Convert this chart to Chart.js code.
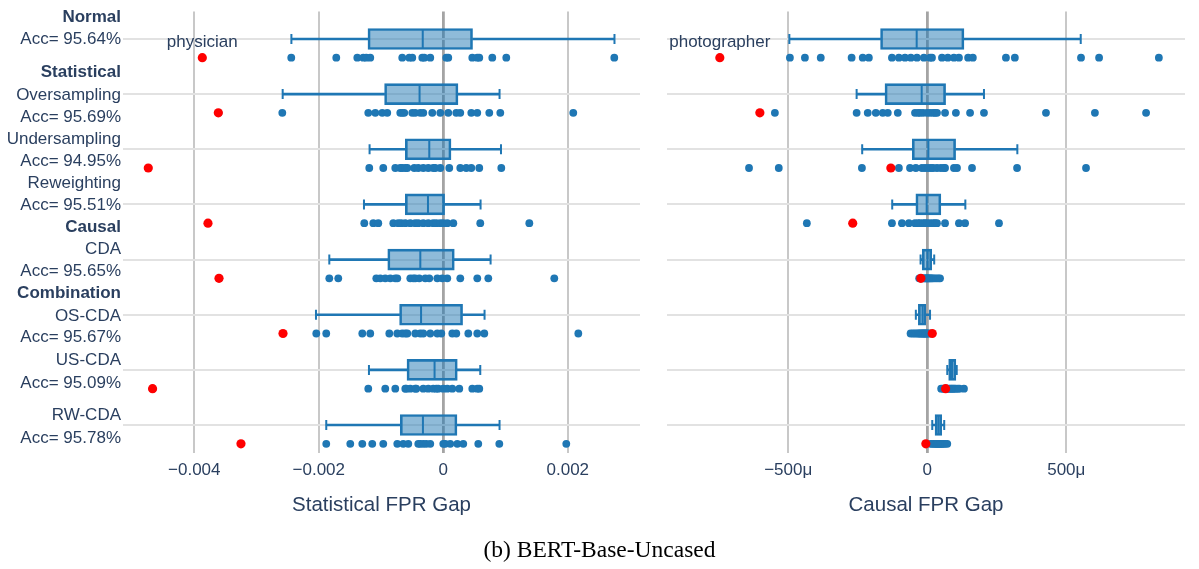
<!DOCTYPE html>
<html>
<head>
<meta charset="utf-8">
<script src="https://cdn.jsdelivr.net/npm/chart.js@4.4.0/dist/chart.umd.min.js"></script>
<style>
  body { margin: 0; background: #fff; width: 1199px; height: 569px; overflow: hidden; position: relative; }
  #leftWrap { position: absolute; left: 0; top: 0; width: 655px; height: 569px; }
  #rightWrap { position: absolute; left: 655px; top: 0; width: 544px; height: 569px; }
  #caption { position: absolute; left: 0; width: 1199px; top: 536px; text-align: center;
             font-family: "Liberation Serif", "Times New Roman", serif; font-size: 23.5px; color: #000; }
</style>
</head>
<body>
<div id="leftWrap"><canvas id="statChart"></canvas></div>
<div id="rightWrap"><canvas id="causalChart"></canvas></div>
<div id="caption">(b) BERT-Base-Uncased</div>
<script>
// row labels, top to bottom ('*' = bold line)
const rowLabelLines = [
    ['*Normal', 'Acc= 95.64%'],
    ['*Statistical', 'Oversampling', 'Acc= 95.69%'],
    ['Undersampling', 'Acc= 94.95%'],
    ['Reweighting', 'Acc= 95.51%'],
    ['*Causal', 'CDA', 'Acc= 95.65%'],
    ['*Combination', 'OS-CDA', 'Acc= 95.67%'],
    ['US-CDA', 'Acc= 95.09%'],
    ['RW-CDA', 'Acc= 95.78%']
];

const statTicks = [-0.004, -0.002, 0, 0.002];
const causalTicks = [-500, 0, 500];   // in micro units

// Statistical FPR gap: box stats per row
const statLow  = [-0.00244, -0.00258, -0.001184, -0.001274, -0.001831, -0.002045, -0.001194, -0.00188];
const statQ1   = [-0.00121, -0.000943, -0.00061, -0.00061, -0.000892, -0.000702, -0.000583, -0.000691];
const statMed  = [-0.00033, -0.000381, -0.000225, -0.000246, -0.000369, -0.000357, -0.00014, -0.000327];
const statQ3   = [0.00047, 0.000236, 0.000124, 0.000021, 0.000177, 0.00031, 0.000225, 0.00022];
const statHigh = [0.00275, 0.000904, 0.000927, 0.000599, 0.00076, 0.000663, 0.000594, 0.000904];
const statRed  = [-0.003871, -0.003614, -0.004739, -0.00378, -0.003603, -0.002575, -0.00467, -0.00325];
const statPoints = [
    [-0.002442, -0.001719, -0.001381, -0.001285, -0.001237, -0.001173, -0.000659, -0.000546, -0.000498, -0.000337,
     -0.000305, -0.000209, 0.000048, 0.00008, 0.000466, 0.000546, 0.000578, 0.000787, 0.001012, 0.002747],
    [-0.00361, -0.002586, -0.001205, -0.001092, -0.00098, -0.0009, -0.000691, -0.000659, -0.000627, -0.000498, -0.00045,
     -0.000369, -0.000321, -0.000177, -0.000048, 0.00008, 0.000209, 0.000273, 0.00045, 0.000546, 0.000739, 0.000916, 0.002088],
    [-0.001189, -0.000964, -0.000771, -0.000691, -0.000659, -0.00061, -0.000578, -0.000466, -0.000402, -0.000321,
     -0.000241, -0.000161, -0.000129, -0.000048, 0.000096, 0.000273, 0.000369, 0.00045, 0.000578, 0.000932],
    [-0.001269, -0.001124, -0.001044, -0.000803, -0.000723, -0.000675, -0.00061, -0.00053, -0.00045, -0.000402,
     -0.000321, -0.000241, -0.000161, -0.000112, -0.000048, 0, 0.000064, 0.000161, 0.000594, 0.001382],
    [-0.0036, -0.001831, -0.001687, -0.001076, -0.001012, -0.000932, -0.000851, -0.000771, -0.000739, -0.00053, -0.000482,
     -0.00045, -0.000386, -0.000289, -0.000225, -0.000096, -0.000016, 0.000064, 0.000273, 0.000546, 0.000723, 0.001783],
    [-0.00204, -0.00188, -0.001301, -0.001173, -0.000867, -0.000739, -0.000659, -0.00061, -0.000578, -0.00045, -0.000369,
     -0.000321, -0.000209, -0.000096, -0.000032, 0.000145, 0.000209, 0.000402, 0.000546, 0.000659, 0.002169],
    [-0.00467, -0.001205, -0.000932, -0.000771, -0.00061, -0.000594, -0.00053, -0.00045, -0.000434, -0.000321, -0.000241,
     -0.000161, -0.000112, -0.00008, 0, 0.000064, 0.000145, 0.000257, 0.000466, 0.000546, 0.000578],
    [-0.00188, -0.001494, -0.001301, -0.001141, -0.000964, -0.000739, -0.000643, -0.000562, -0.000402, -0.000369, -0.000321,
     -0.000273, -0.000209, 0, 0.000032, 0.000112, 0.000225, 0.000321, 0.000562, 0.0009, 0.001976]
];

// Causal FPR gap (micro units): box stats per row
const causalLow  = [-496, -254, -234, -126, -24, -41, 72, 18];
const causalQ1   = [-168, -152, -54, -41, -18, -32, 77, 28];
const causalMed  = [-38, -20, 4, -2, 1, -17, 89, 40];
const causalQ3   = [132, 66, 102, 49, 16, -5, 103, 52];
const causalHigh = [552, 204, 324, 137, 25, 10, 106, 61];
const causalRed  = [-746, -602, -131, -268, -23, 18, 66, -5];
const causalPoints = [
    [-494, -440, -383, -272, -232, -210, -127, -102, -80, -59, -37, -12, 10, 17, 53, 74, 96, 114, 147, 164, 283, 315, 553, 618, 833],
    [-548, -254, -214, -185, -160, -142, -106, -44, -33, -26, -15, -1, 10, 21, 28, 35, 64, 103, 154, 204, 427, 603, 787],
    [-641, -534, -235, -102, -62, -41, -19, -8, 3, 13, 21, 35, 49, 60, 64, 96, 107, 161, 323, 571],
    [-433, -127, -91, -66, -44, -33, -26, -15, -8, -1, 10, 21, 28, 35, 64, 114, 136, 258],
    [-29, -22, -16, -12, -8, -5, -2, 0, 3, 6, 9, 12, 16, 20, 26, 33, 40, 46],
    [-60, -52, -45, -38, -32, -28, -24, -20, -17, -14, -11, -8, -5, -2, 2, 8],
    [50, 56, 62, 68, 73, 78, 82, 86, 90, 94, 98, 103, 110, 116, 132],
    [12, 18, 24, 28, 32, 35, 38, 41, 44, 47, 50, 54, 58, 64, 72]
];

const statNote = 'physician';
const causalNote = 'photographer';

const BLUE = '#1f77b4';
const TEXT = '#2a3f5f';
const FONT = '"Liberation Sans", Arial, sans-serif';
const PT_OFF = 0.34;   // points sit a bit below their box
// label line offsets (px) from each row's tick
const lineOffsets = [[-22, 0], [-22, 1, 23], [-10, 12], [-21, 1], [-32, -10, 12], [-21, 2, 23], [-10, 13], [-10, 13]];

Chart.defaults.font.family = FONT;

function buildDatasets(low, q1, med, q3, high, pts, red) {
    const idx = low.map((_, i) => i);
    return [
        { type: 'scatter', data: red.map((v, i) => ({ x: v, y: i + PT_OFF })),
          pointRadius: 4.6, backgroundColor: '#ff0000', borderWidth: 0 },
        { type: 'scatter', data: pts.flatMap((row, i) => row.map(v => ({ x: v, y: i + PT_OFF }))),
          pointRadius: 3.9, backgroundColor: BLUE, borderWidth: 0 },
        { type: 'scatter', data: med.map((v, i) => ({ x: v, y: i })),
          pointStyle: 'line', rotation: 90, pointRadius: 9.5, borderColor: BLUE, borderWidth: 2 },
        { type: 'scatter', data: low.map((v, i) => ({ x: v, y: i })).concat(high.map((v, i) => ({ x: v, y: i }))),
          pointStyle: 'line', rotation: 90, pointRadius: 5, borderColor: BLUE, borderWidth: 2 },
        { type: 'bar', indexAxis: 'y', data: idx.map(i => ({ y: i, x: [q1[i], q3[i]] })),
          backgroundColor: 'rgba(31,119,180,0.5)', borderColor: BLUE, borderWidth: 2,
          borderSkipped: false, barThickness: 21, grouped: false },
        { type: 'bar', indexAxis: 'y', data: idx.map(i => ({ y: i, x: [low[i], q1[i]] })),
          backgroundColor: BLUE, borderWidth: 0, barThickness: 2, grouped: false },
        { type: 'bar', indexAxis: 'y', data: idx.map(i => ({ y: i, x: [q3[i], high[i]] })),
          backgroundColor: BLUE, borderWidth: 0, barThickness: 2, grouped: false }
    ];
}

const rowLabelPlugin = {
    id: 'rowLabels',
    afterDraw(chart) {
        const ctx = chart.ctx, ys = chart.scales.y;
        ctx.save();
        ctx.fillStyle = TEXT;
        ctx.textAlign = 'right';
        ctx.textBaseline = 'middle';
        rowLabelLines.forEach((lines, i) => {
            const y0 = ys.getPixelForValue(i);
            lines.forEach((t, j) => {
                const bold = t.startsWith('*');
                ctx.font = (bold ? 'bold ' : '') + '17px ' + FONT;
                ctx.fillText(bold ? t.slice(1) : t, chart.chartArea.left - 2, y0 + lineOffsets[i][j]);
            });
        });
        ctx.restore();
    }
};

const notePlugin = {
    id: 'note',
    afterDraw(chart, args, opts) {
        const ctx = chart.ctx;
        ctx.save();
        ctx.fillStyle = TEXT;
        ctx.font = '17px ' + FONT;
        ctx.textAlign = 'center';
        ctx.textBaseline = 'middle';
        ctx.fillText(opts.text, chart.scales.x.getPixelForValue(opts.value), chart.scales.y.getPixelForValue(0.06));
        ctx.restore();
    }
};

function makePanel(id, sets, ticks, xmin, xmax, fmt, title, pad, note, noteVal, withLabels) {
    const plugins = [notePlugin];
    if (withLabels) plugins.push(rowLabelPlugin);
    new Chart(document.getElementById(id), {
        type: 'scatter',
        data: { datasets: sets },
        plugins: plugins,
        options: {
            responsive: true,
            maintainAspectRatio: false,
            animation: false,
            events: [],
            layout: { padding: pad },
            plugins: { legend: { display: false }, tooltip: { enabled: false }, note: { text: note, value: noteVal } },
            scales: {
                x: {
                    type: 'linear', min: xmin, max: xmax, offset: false,
                    afterBuildTicks: s => { s.ticks = ticks.map(v => ({ value: v })); },
                    ticks: { callback: fmt, font: { size: 17 }, color: TEXT, padding: 7, maxRotation: 0, autoSkip: false },
                    grid: {
                        color: c => (c.tick && c.tick.value === 0) ? '#a4a4a4' : '#c8c8c8',
                        lineWidth: c => (c.tick && c.tick.value === 0) ? 2.8 : 2,
                        drawTicks: false, offset: false
                    },
                    border: { display: false },
                    title: { display: true, text: title, font: { size: 20.5 }, color: TEXT, padding: { top: 0, bottom: 51 } },
                    afterFit: s => { s.height = 116; }
                },
                y: {
                    type: 'linear', min: -0.498, max: 7.507, reverse: true, offset: false,
                    afterBuildTicks: s => { s.ticks = rowLabelLines.map((_, i) => ({ value: i })); },
                    ticks: { display: false },
                    grid: { color: '#e2e2e2', lineWidth: 2, drawTicks: false, offset: false },
                    border: { display: false },
                    afterFit: s => { s.width = 0; }
                }
            }
        }
    });
}

makePanel('statChart',
    buildDatasets(statLow, statQ1, statMed, statQ3, statHigh, statPoints, statRed),
    statTicks, -0.005145, 0.00316,
    v => v === 0 ? '0' : (v < 0 ? '\u2212' : '') + Math.abs(v).toFixed(3),
    'Statistical FPR Gap', { left: 123, right: 15, top: 11, bottom: 0 }, statNote, statRed[0], true);

makePanel('causalChart',
    buildDatasets(causalLow, causalQ1, causalMed, causalQ3, causalHigh, causalPoints, causalRed),
    causalTicks, -936, 927,
    v => v === 0 ? '0' : (v < 0 ? '\u2212' : '') + Math.abs(v) + '\u03bc',
    'Causal FPR Gap', { left: 12, right: 14, top: 11, bottom: 0 }, causalNote, causalRed[0], false);
</script>
</body>
</html>
